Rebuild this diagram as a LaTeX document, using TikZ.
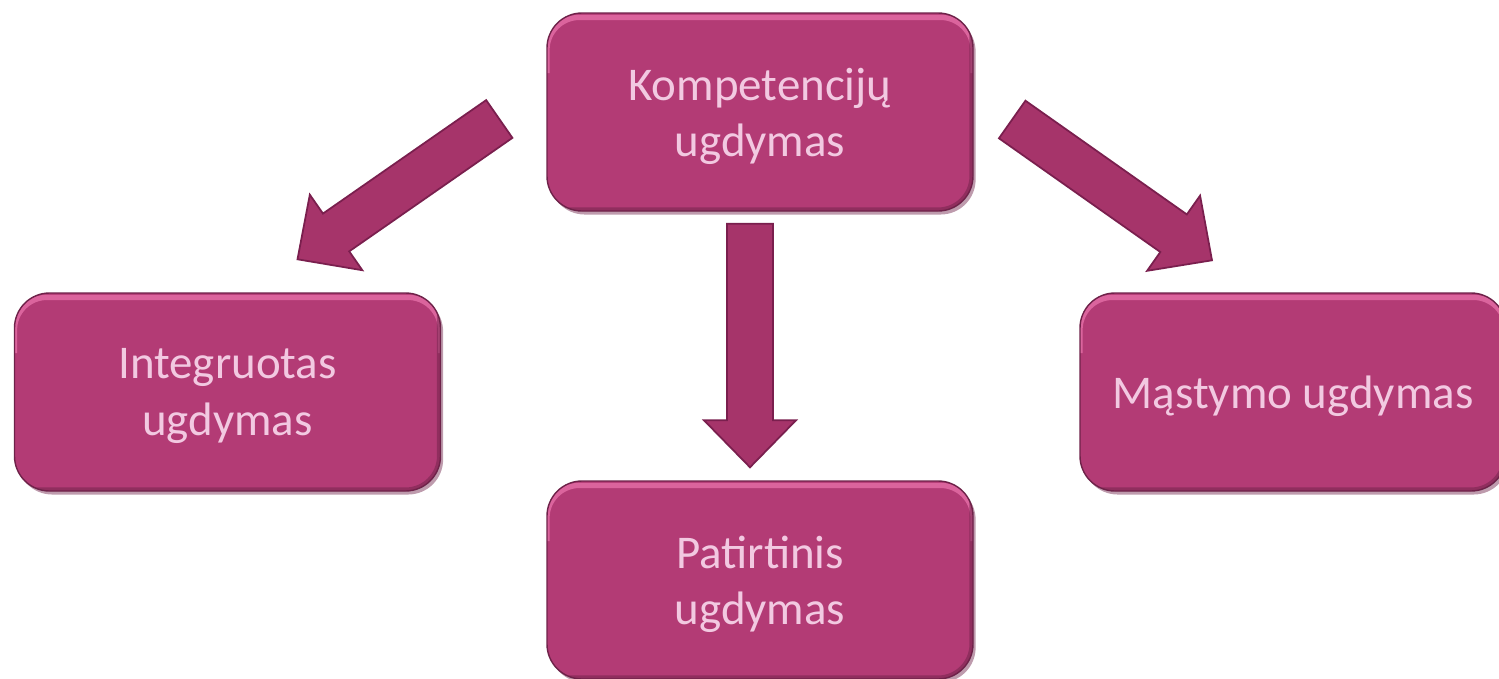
\documentclass[tikz,border=0pt]{standalone}
\usepackage{fontspec}
\setmainfont{Carlito}
\usetikzlibrary{calc, positioning}

\definecolor{boxfill}{HTML}{B33B75}
\definecolor{boxedge}{HTML}{6E2249}
\definecolor{boxhi}{HTML}{E56FA8}
\definecolor{boxtext}{HTML}{F2C9E1}
\definecolor{arrowfill}{HTML}{A6346A}
\definecolor{arrowedge}{HTML}{7A1F4E}

% block arrow from tail coordinate to tip coordinate
\def\shafthalf{0.46cm}
\def\headhalf{0.92cm}
\def\headlen{0.94cm}
\newcommand{\blockarrow}[2]{%
  \coordinate (hb) at ($(#2)!\headlen!(#1)$);
  \filldraw[blockarrow] ($(#1)!\shafthalf!90:(#2)$) -- ($(hb)!\shafthalf!90:(#2)$)
    -- ($(hb)!\headhalf!90:(#2)$) -- (#2) -- ($(hb)!\headhalf!-90:(#2)$)
    -- ($(hb)!\shafthalf!-90:(#2)$) -- ($(#1)!\shafthalf!-90:(#2)$) -- cycle;
}

\tikzset{
  ugbox/.style={rounded corners=0.7cm, minimum width=8.52cm, minimum height=3.96cm,
    fill=boxfill, draw=boxedge, line width=0.8pt, text=boxtext, align=center,
    font=\fontsize{26.7}{32}\selectfont, text depth=0pt,
    preaction={fill=boxedge, opacity=0.45, transform canvas={xshift=1.5pt, yshift=-2pt}},
    path picture={
      \draw[boxhi, line width=3pt, opacity=0.8, rounded corners=0.65cm]
        ([yshift=-1.2cm]path picture bounding box.north west) -- ([yshift=-2.5pt]path picture bounding box.north west)
        -- ([yshift=-2.5pt]path picture bounding box.north east) -- ([yshift=-1.2cm]path picture bounding box.north east);
      \draw[boxedge, line width=4pt, opacity=0.5]
        (path picture bounding box.north east) -- (path picture bounding box.south east)
        -- (path picture bounding box.south west);
    }},
  blockarrow/.style={fill=arrowfill, draw=arrowedge, line width=1pt, line join=miter}
}

\begin{document}
\begin{tikzpicture}
  \useasboundingbox (0,0) rectangle (29.98,-13.56);

  % boxes
  \node[ugbox] (komp) at (15.2,-2.24) {Kompetencijų\\ugdymas};
  \node[ugbox] (integ) at (4.55,-7.84) {Integruotas\\ugdymas};
  \node[ugbox] (mast) at (25.86,-7.84) {Mąstymo ugdymas};
  \node[ugbox] (patir) at (15.2,-11.6) {Patirtinis\\ugdymas};

  % arrow ends
  \coordinate (dn-tail) at ([shift={(-0.2,-0.24)}]komp.south);
  \coordinate (dn-tip) at ([shift={(-0.2,0.26)}]patir.north);
  \coordinate (lt-tail) at ([shift={(-0.94,-0.14)}]komp.west);
  \coordinate (lt-tip) at ([shift={(1.4,0.66)}]integ.north);
  \coordinate (rt-tail) at ([shift={(0.77,-0.15)}]komp.east);
  \coordinate (rt-tip) at ([shift={(-1.62,0.64)}]mast.north);

  % arrows
  \blockarrow{lt-tail}{lt-tip}
  \blockarrow{dn-tail}{dn-tip}
  \blockarrow{rt-tail}{rt-tip}
\end{tikzpicture}
\end{document}
